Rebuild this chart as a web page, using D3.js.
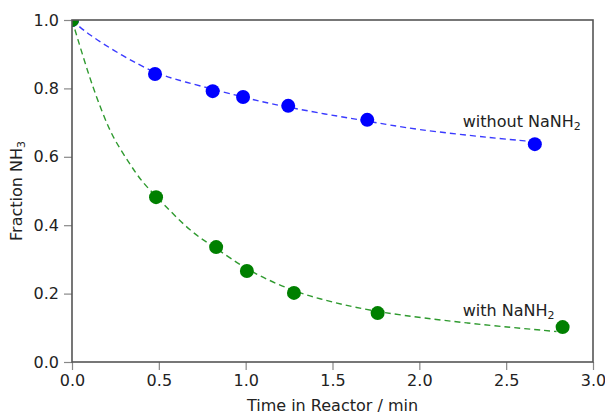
<!DOCTYPE html>
<html>
<head>
<meta charset="utf-8">
<script src="https://cdn.jsdelivr.net/npm/d3@7"></script>
<style>
    body { margin: 0; background: #fff; }
    svg text { font-family: "DejaVu Sans", sans-serif; fill: #222; }
</style>
</head>
<body>
<div id="chart"></div>
<script>
// measured points
const timeWithout = [0, 0.478, 0.81, 0.985, 1.245, 1.70, 2.665];
const fracWithout = [1.0, 0.842, 0.792, 0.775, 0.749, 0.708, 0.637];
const timeWith = [0, 0.484, 0.83, 1.007, 1.278, 1.76, 2.825];
const fracWith = [1.0, 0.482, 0.336, 0.266, 0.202, 0.143, 0.102];

// dashed fit curves
const fitTimeWithout = [0, 0.084, 0.296, 0.478, 0.622, 0.985, 1.10, 1.485, 1.70, 1.965, 2.445, 2.64];
const fitFracWithout = [1.0, 0.961, 0.893, 0.845, 0.822, 0.775, 0.759, 0.722, 0.705, 0.680, 0.654, 0.645];
const fitTimeWith = [0, 0.104, 0.18, 0.238, 0.324, 0.401, 0.484, 0.689, 0.83, 1.007, 1.278, 1.504, 1.76, 2.272, 2.79];
const fitFracWith = [1.0, 0.825, 0.722, 0.654, 0.586, 0.527, 0.485, 0.376, 0.334, 0.268, 0.205, 0.174, 0.145, 0.113, 0.089];

const xTicks = [0, 0.5, 1.0, 1.5, 2.0, 2.5, 3.0];
const yTicks = [0, 0.2, 0.4, 0.6, 0.8, 1.0];

const W = 605, H = 414;
const margin = {top: 20, right: 12, bottom: 52, left: 72};
const w = W - margin.left - margin.right;
const h = H - margin.top - margin.bottom;

const svg = d3.select('#chart').append('svg')
    .attr('width', W)
    .attr('height', H);

const g = svg.append('g')
    .attr('transform', `translate(${margin.left},${margin.top})`);

const x = d3.scaleLinear().domain([0, 3]).range([0, w]);
const y = d3.scaleLinear().domain([0, 1]).range([h, 0]);

svg.append('defs').append('clipPath')
    .attr('id', 'plotclip')
    .append('rect')
    .attr('width', w)
    .attr('height', h);

const plot = g.append('g').attr('clip-path', 'url(#plotclip)');

const line = d3.line()
    .x(d => x(d[0]))
    .y(d => y(d[1]))
    .curve(d3.curveBasis);

let series = [
    {t: timeWithout, f: fracWithout, ft: fitTimeWithout, ff: fitFracWithout, color: '#0000ff', lineColor: '#3a3aff'},
    {t: timeWith, f: fracWith, ft: fitTimeWith, ff: fitFracWith, color: '#008000', lineColor: '#2f9a2f'}
];

series.forEach(s => {
    plot.append('path')
        .datum(s.ft.map((t, i) => [t, s.ff[i]]))
        .attr('d', line)
        .attr('fill', 'none')
        .attr('stroke', s.lineColor)
        .attr('stroke-width', 1.4)
        .attr('stroke-dasharray', '6,4');

    plot.append('g')
        .selectAll('circle')
        .data(s.t.map((t, i) => [t, s.f[i]]))
        .join('circle')
        .attr('cx', d => x(d[0]))
        .attr('cy', d => y(d[1]))
        .attr('r', 7)
        .attr('fill', s.color);
});

// annotations
let note = (tx, fy, label) => {
    const t = g.append('text')
        .attr('x', x(tx))
        .attr('y', y(fy))
        .attr('font-size', 16);
    t.append('tspan').text(label);
    t.append('tspan').attr('font-size', 11).attr('dy', 3).text('2');
};
note(2.25, 0.687, 'without NaNH');
note(2.25, 0.134, 'with NaNH');

// axes
const xAxis = g.append('g')
    .attr('transform', `translate(0,${h})`)
    .call(d3.axisBottom(x).tickValues(xTicks).tickFormat(d3.format('.1f')).tickSize(8).tickPadding(5));
const yAxis = g.append('g')
    .call(d3.axisLeft(y).tickValues(yTicks).tickFormat(d3.format('.1f')).tickSize(8).tickPadding(5));

[xAxis, yAxis].forEach(a => {
    a.select('.domain').remove();
    a.selectAll('.tick line').attr('stroke', '#888').attr('stroke-width', 1.2);
    a.selectAll('.tick text').attr('font-size', 16).attr('font-family', '"DejaVu Sans", sans-serif').attr('fill', '#222');
});

// frame
g.append('rect')
    .attr('width', w)
    .attr('height', h)
    .attr('fill', 'none')
    .attr('stroke', '#555')
    .attr('stroke-width', 1.6);

g.append('text')
    .attr('x', w / 2)
    .attr('y', h + 49)
    .attr('text-anchor', 'middle')
    .attr('font-size', 16)
    .text('Time in Reactor / min');

const yl = g.append('text')
    .attr('transform', `translate(${-50},${h / 2}) rotate(-90)`)
    .attr('text-anchor', 'middle')
    .attr('font-size', 16);
yl.append('tspan').text('Fraction NH');
yl.append('tspan').attr('font-size', 11).attr('dy', 3).text('3');
</script>
</body>
</html>
